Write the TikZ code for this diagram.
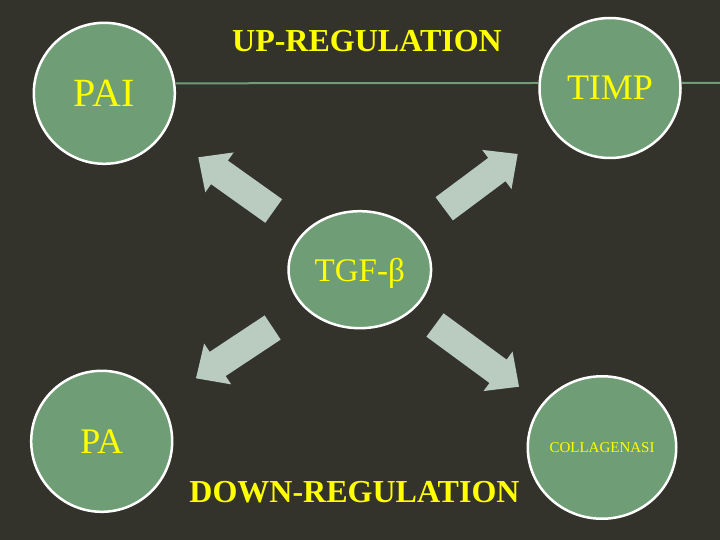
\documentclass[tikz,border=0pt]{standalone}
\usepackage{fontspec}
\setmainfont{Liberation Serif}
\usetikzlibrary{shapes.geometric,calc}
\definecolor{bgc}{HTML}{33332B}
\definecolor{blobc}{HTML}{6F9E76}
\definecolor{arrowc}{HTML}{B9CCBF}
\definecolor{txtc}{HTML}{FFFF00}
\newcommand\fatarrow[2]{%
  \path ($(#2)!26pt!(#1)$) coordinate (hb);
  \fill[arrowc] ($(#1)!14.5pt!90:(#2)$) -- ($(hb)!14.5pt!90:(#2)$) -- ($(hb)!24.5pt!90:(#2)$) -- (#2)
     -- ($(hb)!24.5pt!-90:(#2)$) -- ($(hb)!14.5pt!-90:(#2)$) -- ($(#1)!14.5pt!-90:(#2)$) -- cycle;}
\begin{document}
\begin{tikzpicture}[x=1pt,y=-1pt,
  blob/.style={ellipse, fill=blobc, draw=white, line width=2.5pt, inner sep=0pt, text=txtc},
  headline/.style={text=txtc, font=\bfseries\fontsize{32}{36}\selectfont, anchor=base, inner sep=0pt},
  link/.style={draw=blobc, line width=2pt}]
\useasboundingbox (0,0) rectangle (720,540);
\fill[bgc] (0,0) rectangle (720,540);
% arrows
\coordinate (ult) at (273.7,211);   \coordinate (ulp) at (198.3,157.3);
\coordinate (urt) at (444.2,208.8); \coordinate (urp) at (517.7,154);
\coordinate (llt) at (272.7,327.5); \coordinate (llp) at (196,378.3);
\coordinate (lrt) at (435,325);     \coordinate (lrp) at (519,386.7);
\fatarrow{ult}{ulp}
\fatarrow{urt}{urp}
\fatarrow{llt}{llp}
\fatarrow{lrt}{lrp}
% nodes
\node[blob, minimum width=141pt, minimum height=141pt, font=\fontsize{40}{44}\selectfont] (pai) at (104.3,93.3) {PAI};
\node[blob, minimum width=141pt, minimum height=140pt, font=\fontsize{36}{40}\selectfont] (timp) at (610,88) {TIMP};
\node[blob, minimum width=141pt, minimum height=141pt, font=\fontsize{36}{40}\selectfont] (pa) at (101.7,441.3) {PA};
\node[blob, minimum width=146.5pt, minimum height=142.5pt, font=\fontsize{15}{18}\selectfont] (coll) at (602,447.5) {COLLAGENASI};
\node[blob, minimum width=142.5pt, minimum height=117pt, text depth=0pt, font=\fontsize{33}{38}\selectfont] (tgf) at (359.8,269.7) {TGF-β};
% line
\coordinate (lineend) at (720,83);
\draw[link] (pai.8) -- (timp.176);
\draw[link] (timp.4) -- (lineend);
% headlines
\node[headline] (up) at (367,52) {UP-REGULATION};
\node[headline] (down) at (354.5,502) {DOWN-REGULATION};
\end{tikzpicture}
\end{document}
